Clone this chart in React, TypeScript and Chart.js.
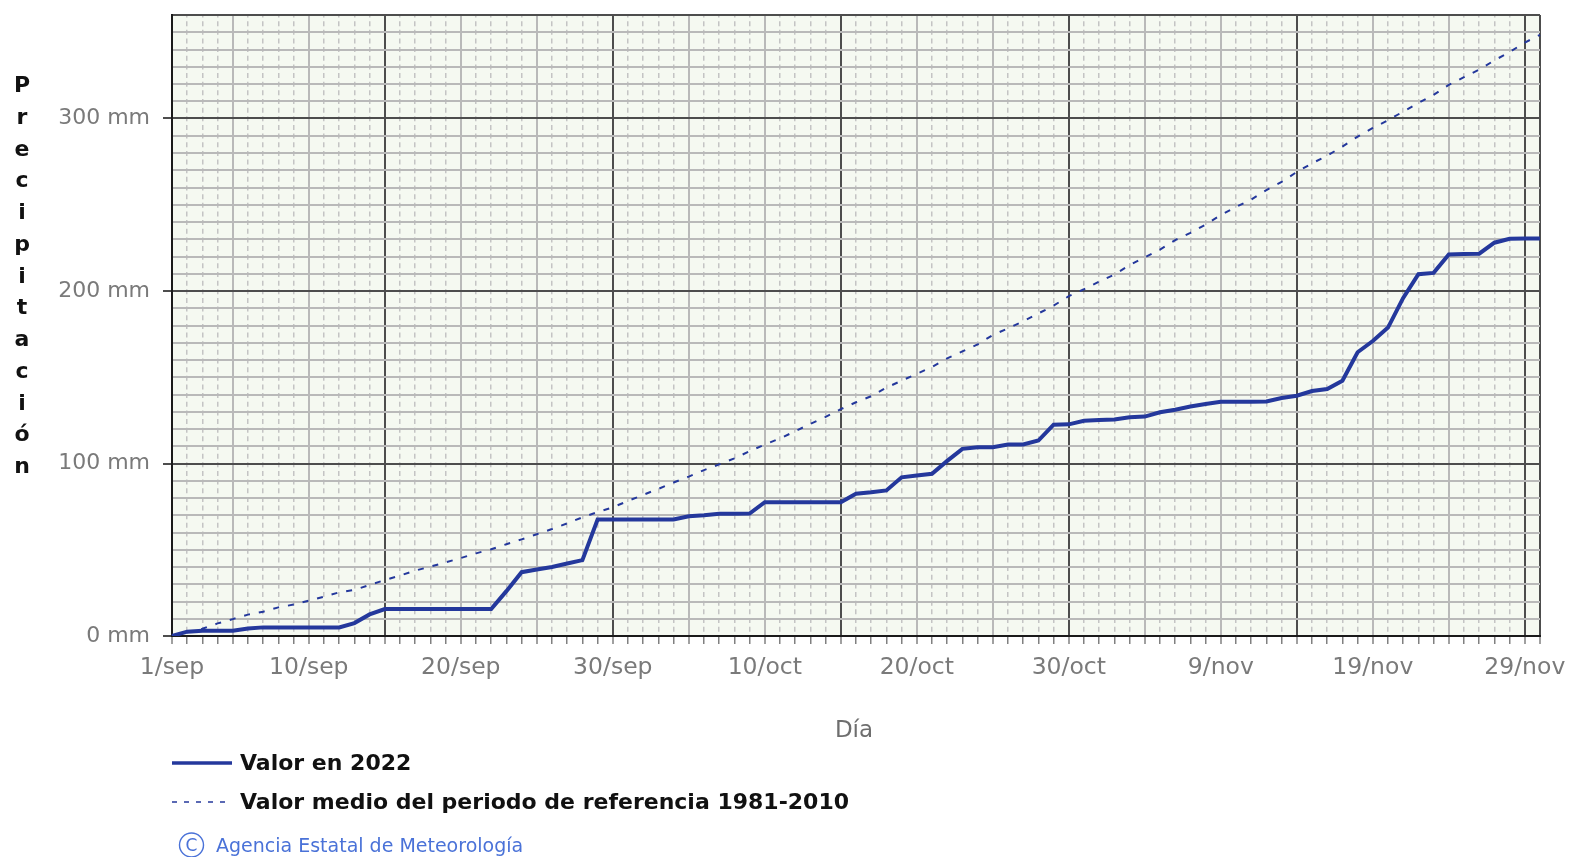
import React, { useEffect, useRef } from 'react';
import { Chart, registerables } from 'chart.js';

Chart.register(...registerables);

const MONTHS = ['sep', 'oct', 'nov'];
const MONTH_DAYS = [30, 31, 30];
const DAYS: string[] = MONTHS.flatMap((m, i) =>
  Array.from({ length: MONTH_DAYS[i] }, (_, d) => `${d + 1}/${m}`)
);
const TICK_LABELS = ['1/sep', '10/sep', '20/sep', '30/sep', '10/oct', '20/oct', '30/oct', '9/nov', '19/nov', '29/nov'];
const Y_LABEL_VALUES = [0, 100, 200, 300];

const VALUES_2022 = [
  0, 2.5, 3, 3, 3, 4.4, 5, 5, 5, 5, 5,
  5, 7.5, 12.5, 15.6, 15.6, 15.6, 15.6, 15.6, 15.6, 15.6, 15.6,
  26, 37, 38.5, 40, 42, 44, 67.5, 67.5, 67.6, 67.6, 67.6,
  67.6, 69.4, 70, 70.9, 70.9, 71, 77.6, 77.6, 77.6, 77.6, 77.6,
  77.6, 82.5, 83.3, 84.4, 92, 93, 94, 101.5, 108.5, 109.4, 109.4,
  111, 111, 113.3, 122.5, 122.7, 124.8, 125.2, 125.5, 126.8, 127.2, 129.7,
  131.2, 133, 134.5, 135.8, 135.8, 135.8, 136, 138, 139.3, 142, 143.2,
  148, 164.5, 171, 178.8, 196, 209.7, 210.5, 221.2, 221.4, 221.6, 228,
  230.3, 230.5, 230.5,
];

const VALUES_REF = [
  0, 2.2, 4.2, 7.3, 9.8, 12.4, 14.1, 16.6, 18.2, 20.5, 22.8,
  25.3, 26.7, 29.6, 32.4, 35, 37.9, 40.2, 42.7, 45.2, 47.9, 50.3,
  53.2, 56, 59, 62, 65.3, 68.8, 71.8, 74.6, 78.3, 81.8, 85.3,
  89, 92.4, 96.2, 99.5, 103, 107.1, 111, 114.5, 118.7, 123, 127,
  131.5, 135.5, 139, 144, 148, 152, 156, 161, 165, 169, 174.5,
  178.3, 182.5, 187, 191.5, 197, 201, 205.5, 209.5, 215, 219.5, 224,
  229.5, 233.7, 238.5, 244, 248.7, 253, 258.5, 263.2, 269, 274,
  278.5, 283.7, 289.5, 294.5, 299, 304, 309, 313.7, 319.5, 324, 328.3,
  333.7, 338.5, 344, 348.5,
];

const SERIES_NAMES = ['Valor en 2022', 'Valor medio del periodo de referencia 1981-2010'];
const Y_TITLE = 'Precipitación';
const X_TITLE = 'Día';
const CREDIT = 'Agencia Estatal de Meteorología';

const LINE_COLOR = '#24389c';
const DARK = '#4d4d4d';
const MID = '#b9b9b9';
const LIGHT = '#c4c4c4';
const FONT = "'DejaVu Sans', Verdana, sans-serif";

const bgPlugin = {
  id: 'plotBg',
  beforeDraw(chart: any) {
    const { ctx, chartArea } = chart;
    ctx.save();
    ctx.fillStyle = '#f5f9f1';
    ctx.fillRect(chartArea.left, chartArea.top, chartArea.right - chartArea.left, chartArea.bottom - chartArea.top);
    ctx.restore();
  },
};

function ChartCanvas() {
  const ref = useRef<HTMLCanvasElement | null>(null);
  useEffect(() => {
    if (!ref.current) return;
    const chart = new Chart(ref.current, {
      type: 'line',
      data: {
        labels: DAYS,
        datasets: [
          {
            label: SERIES_NAMES[0],
            data: VALUES_2022,
            borderColor: LINE_COLOR,
            backgroundColor: LINE_COLOR,
            borderWidth: 4,
            pointRadius: 0,
            tension: 0,
          },
          {
            label: SERIES_NAMES[1],
            data: VALUES_REF,
            borderColor: LINE_COLOR,
            backgroundColor: LINE_COLOR,
            borderWidth: 2,
            borderDash: [6, 9],
            pointRadius: 0,
            tension: 0,
          },
        ],
      },
      options: {
        responsive: false,
        animation: false,
        events: [],
        layout: { padding: { left: 0, top: 15, right: 30, bottom: 161 } },
        plugins: { legend: { display: false }, tooltip: { enabled: false } },
        scales: {
          x: {
            type: 'category',
            offset: false,
            afterFit(scale: any) {
              scale.height = 60;
              scale.paddingLeft = 0;
              scale.paddingRight = 0;
            },
            ticks: {
              autoSkip: false,
              maxRotation: 0,
              minRotation: 0,
              padding: 10,
              color: '#7a7a7a',
              font: { family: FONT, size: 23.5 },
              callback(this: any, value: any) {
                const l = this.getLabelForValue(value);
                return TICK_LABELS.includes(l) ? l : '';
              },
            },
            grid: {
              color: (c: any) => {
                const i = c.index;
                if (i === 0 || i === 90 || i % 15 === 14) return DARK;
                if (i % 5 === 4) return MID;
                return LIGHT;
              },
              lineWidth: (c: any) => {
                const i = c.index;
                if (i === 0 || i === 90 || i % 15 === 14) return 2;
                if (i % 5 === 4) return 2;
                return 1.5;
              },
              tickLength: 8,
              tickColor: '#808080',
              tickWidth: 1.5,
            },
            border: {
              color: '#1a1a1a',
              width: 2,
              dash: (c: any) => {
                if (!c || c.index === undefined || c.type !== 'tick') return [];
                const i = c.index;
                if (i === 0 || i === 90 || i % 5 === 4) return [];
                return [5, 3.65];
              },
              dashOffset: 2.5,
            },
          },
          y: {
            type: 'linear',
            min: 0,
            max: 360,
            afterFit(scale: any) {
              scale.width = 172;
              scale.paddingTop = 0;
              scale.paddingBottom = 0;
            },
            ticks: {
              stepSize: 10,
              autoSkip: false,
              padding: 13,
              color: '#7a7a7a',
              font: { family: FONT, size: 22 },
              callback: (v: any) => (Y_LABEL_VALUES.includes(Number(v)) ? `${v} mm` : ''),
            },
            grid: {
              color: (c: any) => {
                const v = c.tick ? c.tick.value : 0;
                if (v % 100 === 0 || v === 360) return DARK;
                return MID;
              },
              lineWidth: 2,
              tickLength: 9,
              tickColor: (c: any) => {
                const v = c.tick ? c.tick.value : 0;
                return v % 100 === 0 ? DARK : 'rgba(0,0,0,0)';
              },
              tickWidth: 2,
            },
            border: { color: '#1a1a1a', width: 2 },
          },
        },
      },
      plugins: [bgPlugin],
    });
    return () => chart.destroy();
  }, []);
  return <canvas ref={ref} width={1570} height={857} style={{ display: 'block', width: 1570, height: 857 }} />;
}

function Label(props: { left: number; cy: number; text: string; style?: any }) {
  const h = 30;
  return (
    <div
      style={{
        position: 'absolute',
        left: props.left,
        top: props.cy - h / 2,
        height: h,
        lineHeight: `${h}px`,
        whiteSpace: 'nowrap',
        fontFamily: FONT,
        ...props.style,
      }}
    >
      {props.text}
    </div>
  );
}

export default function App() {
  const letters = Array.from(Y_TITLE);
  return (
    <div style={{ position: 'absolute', left: 0, top: 0, width: 1570, height: 857, background: '#fff', overflow: 'hidden' }}>
      <ChartCanvas />
      <div style={{ position: 'absolute', left: 7, top: 85 - 15.9, width: 30, textAlign: 'center', fontFamily: FONT, fontWeight: 'bold', fontSize: 22, color: '#111' }}>
        {letters.map((ch, i) => (
          <div key={i} style={{ height: 31.75, lineHeight: '31.75px' }}>{ch}</div>
        ))}
      </div>
      <div style={{ position: 'absolute', left: 754, width: 200, top: 729 - 15, height: 30, lineHeight: '30px', textAlign: 'center', fontFamily: FONT, fontSize: 23, color: '#6e6e6e' }}>
        {X_TITLE}
      </div>
      <svg style={{ position: 'absolute', left: 0, top: 0 }} width={300} height={857}>
        <line x1={172} y1={763} x2={232} y2={763} stroke={LINE_COLOR} strokeWidth={3.5} />
        <line x1={172} y1={802} x2={232} y2={802} stroke={LINE_COLOR} strokeWidth={1.5} strokeDasharray="5 7" />
        <circle cx={191.5} cy={845} r={12} fill="none" stroke="#4a72d8" strokeWidth={1.4} />
      </svg>
      <Label left={240} cy={763} text={SERIES_NAMES[0]} style={{ fontWeight: 'bold', fontSize: 22, color: '#111' }} />
      <Label left={240} cy={802} text={SERIES_NAMES[1]} style={{ fontWeight: 'bold', fontSize: 22, color: '#111' }} />
      <div style={{ position: 'absolute', left: 179.5, width: 24, top: 845 - 12, height: 24, lineHeight: '24px', textAlign: 'center', fontFamily: FONT, fontSize: 17, color: '#4a72d8' }}>C</div>
      <Label left={216} cy={845} text={CREDIT} style={{ fontSize: 19, color: '#4a72d8' }} />
    </div>
  );
}
